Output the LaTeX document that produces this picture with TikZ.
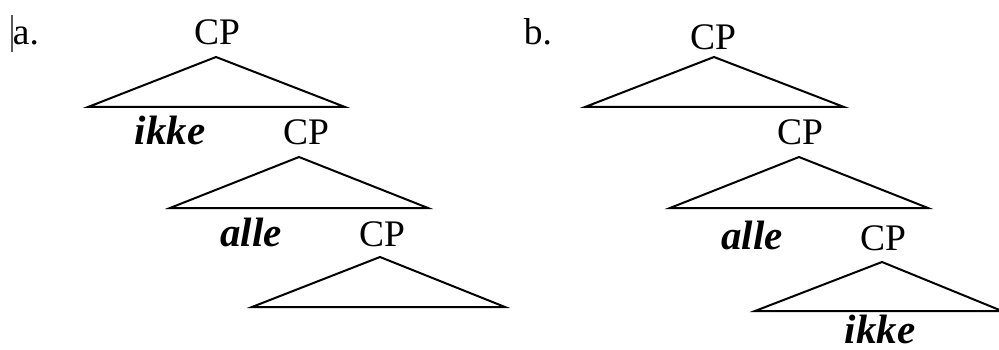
\documentclass[tikz,border=0pt]{standalone}
\usepackage{fontspec}
\setmainfont{Liberation Serif}
\begin{document}
\begin{tikzpicture}[x=1pt,y=-1pt,
  lbl/.style={anchor=base,inner sep=0pt,font=\fontsize{37.5}{40}\selectfont},
  word/.style={lbl,font=\fontsize{41}{44}\selectfont\bfseries\itshape},
  tri/.style={draw=black,line width=2pt,line join=miter}]
\useasboundingbox (0,0) rectangle (999,350);
% cursor artifact
\draw[gray!70!black,line width=1.2pt] (12,15) -- (12,52);
% ---- a ----
\node[lbl] (la) at (26,45) {a.};
\node[lbl] (a1) at (217,45) {CP};
\coordinate (a1t) at (216,57); \coordinate (a1l) at (88,107); \coordinate (a1r) at (345,107);
\draw[tri] (a1l) -- (a1t) -- (a1r) -- cycle;
\node[word] (aik) at (170,145) {ikke};
\node[lbl] (a2) at (306,145) {CP};
\coordinate (a2t) at (299,157); \coordinate (a2l) at (170,208); \coordinate (a2r) at (428,208);
\draw[tri] (a2l) -- (a2t) -- (a2r) -- cycle;
\node[word] (aal) at (251,246) {alle};
\node[lbl] (a3) at (382,246) {CP};
\coordinate (a3t) at (380,257); \coordinate (a3l) at (252,307); \coordinate (a3r) at (505,307);
\draw[tri] (a3l) -- (a3t) -- (a3r) -- cycle;
% ---- b ----
\node[lbl] (lb) at (538,45) {b.};
\node[lbl] (b1) at (713,50) {CP};
\coordinate (b1t) at (714,57); \coordinate (b1l) at (585,107); \coordinate (b1r) at (844,107);
\draw[tri] (b1l) -- (b1t) -- (b1r) -- cycle;
\node[lbl] (b2) at (800,145) {CP};
\coordinate (b2t) at (799,157); \coordinate (b2l) at (670,208); \coordinate (b2r) at (928,208);
\draw[tri] (b2l) -- (b2t) -- (b2r) -- cycle;
\node[word] (bal) at (752,249) {alle};
\node[lbl] (b3) at (883,250) {CP};
\coordinate (b3t) at (882,262); \coordinate (b3l) at (755,311); \coordinate (b3r) at (1002,311);
\draw[tri] (b3l) -- (b3t) -- (b3r) -- cycle;
\node[word] (bik) at (880,343) {ikke};
\end{tikzpicture}
\end{document}
